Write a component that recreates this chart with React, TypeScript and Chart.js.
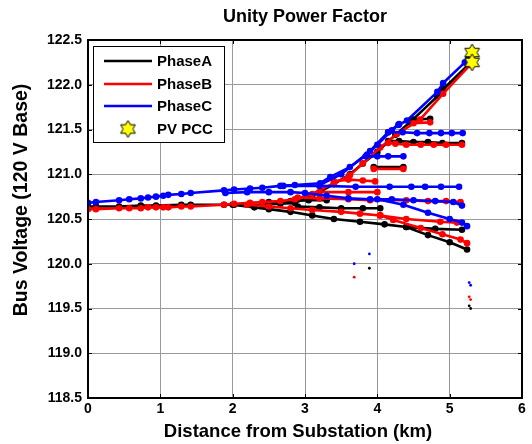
import React, { useEffect, useRef } from 'react';
import { Chart, registerables } from 'chart.js';
Chart.register(...registerables);

type P = [number, number];

const chartTitle = 'Unity Power Factor';
const xTitle = 'Distance from Substation (km)';
const yTitle = 'Bus Voltage (120 V Base)';
const legendLabels = ['PhaseA', 'PhaseB', 'PhaseC', 'PV PCC'];
const xMin = 0, xMax = 6, xStep = 1;
const yMin = 118.5, yMax = 122.5, yStep = 0.5;

// Phase A (black)
const phaseA_main: P[] = [[0,120.64],[0.11,120.64],[0.43,120.64],[0.73,120.65],[0.94,120.65],[1.29,120.66],[1.42,120.66],[1.88,120.66],[2.02,120.66],[2.41,120.66],[2.66,120.67],[2.86,120.68],[3.1,120.76],[3.4,120.89],[3.62,121.0],[3.8,121.12],[4.0,121.25],[4.25,121.44],[4.45,121.58],[4.83,121.87],[4.91,121.95],[5.28,122.24]];
const phaseA_h1: P[] = [[4.15,121.37],[4.3,121.37],[4.5,121.36],[4.7,121.36],[4.9,121.35],[5.17,121.35]];
const phaseA_h2: P[] = [[4.5,121.61],[4.73,121.62]];
const phaseA_h3: P[] = [[3.95,121.08],[4.36,121.08]];
const phaseA_mid: P[] = [[2.5,120.69],[2.8,120.7],[3.05,120.71],[3.3,120.71]];
const phaseA_mid2: P[] = [[2.9,120.64],[3.2,120.63],[3.5,120.62],[3.8,120.62],[4.04,120.62]];
const phaseA_low: P[] = [[2.0,120.66],[2.3,120.63],[2.5,120.61],[2.8,120.58],[3.1,120.54],[3.4,120.5],[3.76,120.47],[4.1,120.44],[4.4,120.41],[4.7,120.32],[5.0,120.24],[5.24,120.16]];
const phaseA_low2: P[] = [[4.4,120.41],[4.8,120.39],[5.17,120.38]];
const phaseA_dots: P[] = [[3.89,119.95],[5.27,119.53],[5.29,119.5]];

// Phase B (red)
const phaseB_main: P[] = [[0,120.61],[0.11,120.61],[0.43,120.62],[0.57,120.62],[0.73,120.62],[0.83,120.63],[0.94,120.63],[1.04,120.63],[1.11,120.63],[1.29,120.64],[1.42,120.64],[1.88,120.66],[2.02,120.67],[2.24,120.68],[2.41,120.69],[2.66,120.7],[2.86,120.72],[3.1,120.78],[3.4,120.9],[3.62,120.99],[3.8,121.12],[4.04,121.3],[4.27,121.45],[4.59,121.61],[4.91,121.9],[5.28,122.22]];
const phaseB_h1: P[] = [[4.15,121.35],[4.25,121.34],[4.4,121.33],[4.6,121.33],[4.78,121.33],[4.95,121.33],[5.17,121.33]];
const phaseB_h2: P[] = [[4.5,121.57],[4.73,121.58]];
const phaseB_h3: P[] = [[3.95,121.06],[4.36,121.06]];
const phaseB_h4: P[] = [[3.4,120.92],[3.6,120.94],[3.8,120.93],[3.97,120.92]];
const phaseB_mid: P[] = [[2.9,120.74],[3.2,120.73],[3.6,120.72],[3.9,120.71],[4.4,120.71],[4.7,120.7],[4.95,120.7],[5.15,120.69]];
const phaseB_mid2: P[] = [[3.2,120.8],[3.6,120.8],[4.0,120.8]];
const phaseB_low: P[] = [[2.2,120.66],[2.5,120.64],[2.8,120.62],[3.1,120.6],[3.5,120.58],[3.76,120.56],[4.04,120.54],[4.22,120.49],[4.6,120.4],[4.9,120.33],[5.15,120.27],[5.24,120.23]];
const phaseB_low2: P[] = [[4.04,120.54],[4.4,120.5],[4.87,120.47],[5.1,120.46]];
const phaseB_dots: P[] = [[3.68,119.85],[5.27,119.63],[5.29,119.6]];

// Phase C (blue)
const phaseC_main: P[] = [[0,120.68],[0.11,120.69],[0.43,120.71],[0.57,120.72],[0.73,120.73],[0.83,120.74],[0.94,120.75],[1.04,120.76],[1.11,120.77],[1.29,120.78],[1.42,120.79],[1.88,120.82],[2.02,120.83],[2.24,120.84],[2.41,120.85],[2.66,120.87],[2.86,120.88],[3.21,120.9],[3.35,120.97],[3.62,121.08],[3.86,121.22],[4.0,121.33],[4.2,121.49],[4.29,121.55],[4.41,121.6],[4.83,121.92],[4.91,122.02],[5.21,122.25],[5.26,122.3]];
const phaseC_up2: P[] = [[3.2,120.88],[3.5,121.0],[3.9,121.26],[4.15,121.47],[4.3,121.56]];
const phaseC_h1: P[] = [[4.15,121.47],[4.35,121.47],[4.55,121.46],[4.72,121.46],[4.88,121.46],[5.03,121.46],[5.18,121.46]];
const phaseC_h2: P[] = [[3.84,121.2],[4.0,121.2],[4.15,121.2],[4.36,121.2]];
const phaseC_h3: P[] = [[2.7,120.87],[3.2,120.87],[3.7,120.86],[4.17,120.86],[4.47,120.86],[4.66,120.86],[4.88,120.86],[5.13,120.86]];
const phaseC_mid: P[] = [[1.9,120.79],[2.2,120.8],[2.5,120.8],[2.8,120.8],[3.0,120.79],[3.3,120.76],[3.6,120.73],[3.9,120.72],[4.2,120.72],[4.5,120.71],[4.8,120.7],[5.05,120.69],[5.17,120.65]];
const phaseC_low: P[] = [[4.0,120.72],[4.36,120.66],[4.7,120.57],[5.0,120.5],[5.17,120.46],[5.24,120.42]];
const phaseC_dots: P[] = [[3.68,120.0],[3.89,120.11],[5.27,119.79],[5.29,119.76]];

// PV point of common coupling
const pvPcc: P[] = [[5.31,122.36],[5.31,122.25]];

const BLACK = '#000000';
const RED = '#ff0000';
const BLUE = '#0000ff';
const STAR_FILL = '#ffff00';

function makeStar(R: number): HTMLCanvasElement {
  const c = document.createElement('canvas');
  const s = Math.ceil(R * 2 + 4);
  c.width = s; c.height = s;
  const ctx = c.getContext('2d')!;
  const cx = s / 2, cy = s / 2;
  const r = R / Math.sqrt(3);
  ctx.beginPath();
  for (let i = 0; i < 12; i++) {
    const ang = -Math.PI / 2 + (i * Math.PI) / 6;
    const rad = i % 2 === 0 ? R : r;
    const x = cx + rad * Math.cos(ang), y = cy + rad * Math.sin(ang);
    if (i === 0) ctx.moveTo(x, y); else ctx.lineTo(x, y);
  }
  ctx.closePath();
  ctx.fillStyle = STAR_FILL;
  ctx.fill();
  ctx.lineWidth = 1;
  ctx.strokeStyle = '#000';
  ctx.stroke();
  return c;
}

const toXY = (pts: P[]) => pts.map(([x, y]) => ({ x, y }));

function lineDs(pts: P[], color: string) {
  return {
    data: toXY(pts),
    showLine: true,
    borderColor: color,
    backgroundColor: color,
    borderWidth: 2.6,
    pointRadius: 3.3,
    pointBorderWidth: 0,
    pointBackgroundColor: color,
    tension: 0,
  };
}
function dotDs(pts: P[], color: string) {
  return {
    data: toXY(pts),
    showLine: false,
    borderColor: color,
    backgroundColor: color,
    pointRadius: 1.4,
    pointBorderWidth: 0,
  };
}

const FONT = 'Arial, "Liberation Sans", sans-serif';

export default function App() {
  const ref = useRef<HTMLCanvasElement | null>(null);
  useEffect(() => {
    const canvas = ref.current!;
    const star = makeStar(8.5);
    const legendStar = makeStar(8.5);

    const datasets: any[] = [
      { data: toXY(pvPcc), showLine: false, pointStyle: star, pointRadius: 9 },
      ...[phaseC_main, phaseC_up2, phaseC_h1, phaseC_h2, phaseC_h3, phaseC_mid, phaseC_low].map((p) => lineDs(p, BLUE)),
      dotDs(phaseC_dots, BLUE),
      ...[phaseB_main, phaseB_h1, phaseB_h2, phaseB_h3, phaseB_h4, phaseB_mid, phaseB_mid2, phaseB_low, phaseB_low2].map((p) => lineDs(p, RED)),
      dotDs(phaseB_dots, RED),
      ...[phaseA_main, phaseA_h1, phaseA_h2, phaseA_h3, phaseA_mid, phaseA_mid2, phaseA_low, phaseA_low2].map((p) => lineDs(p, BLACK)),
      dotDs(phaseA_dots, BLACK),
    ];

    const decor = {
      id: 'matlabDecor',
      afterDraw(chart: any) {
        const ctx = chart.ctx as CanvasRenderingContext2D;
        const { left, right, top, bottom } = chart.chartArea;
        const xs = chart.scales.x, ys = chart.scales.y;
        ctx.save();
        // inner ticks
        ctx.strokeStyle = '#000';
        ctx.lineWidth = 1;
        ctx.beginPath();
        for (let v = xMin; v <= xMax + 1e-9; v += xStep) {
          const px = Math.round(xs.getPixelForValue(v)) + 0.5;
          ctx.moveTo(px, bottom); ctx.lineTo(px, bottom - 4);
          ctx.moveTo(px, top); ctx.lineTo(px, top + 4);
        }
        for (let v = yMin; v <= yMax + 1e-9; v += yStep) {
          const py = Math.round(ys.getPixelForValue(v)) + 0.5;
          ctx.moveTo(left, py); ctx.lineTo(left + 4, py);
          ctx.moveTo(right, py); ctx.lineTo(right - 4, py);
        }
        ctx.stroke();
        // box
        ctx.lineWidth = 2;
        ctx.strokeRect(left, top, right - left, bottom - top);

        // legend
        const lx = 93.5, ly = 46.5, lw = 131, lh = 96;
        ctx.fillStyle = '#fff';
        ctx.fillRect(lx, ly, lw, lh);
        ctx.lineWidth = 1;
        ctx.strokeStyle = '#000';
        ctx.strokeRect(lx, ly, lw, lh);
        const rows = [61, 84, 106, 129];
        const cols = [BLACK, RED, BLUE];
        ctx.font = `bold 15px ${FONT}`;
        ctx.textBaseline = 'middle';
        ctx.textAlign = 'left';
        rows.forEach((ry, i) => {
          if (i < 3) {
            ctx.strokeStyle = cols[i];
            ctx.lineWidth = 2.5;
            ctx.beginPath();
            ctx.moveTo(104, ry); ctx.lineTo(152, ry);
            ctx.stroke();
          } else {
            ctx.drawImage(legendStar, 128 - legendStar.width / 2, ry - legendStar.height / 2);
          }
          ctx.fillStyle = '#000';
          ctx.fillText(legendLabels[i], 157, ry + 1);
        });

        // titles
        ctx.fillStyle = '#000';
        ctx.textAlign = 'center';
        ctx.textBaseline = 'middle';
        ctx.font = `bold 18px ${FONT}`;
        ctx.fillText(chartTitle, (left + right) / 2, 17);
        ctx.font = `bold 18.5px ${FONT}`;
        ctx.fillText(xTitle, 298, 432);
        ctx.save();
        ctx.translate(22, 200);
        ctx.rotate(-Math.PI / 2);
        ctx.font = `bold 19.5px ${FONT}`;
        ctx.fillText(yTitle, 0, 0);
        ctx.restore();
        ctx.restore();
      },
    };

    const chart = new Chart(canvas, {
      type: 'scatter',
      data: { datasets },
      options: {
        animation: false,
        responsive: true,
        maintainAspectRatio: false,
        layout: { padding: { left: 0, right: 10, top: 40, bottom: 0 } },
        plugins: { legend: { display: false }, tooltip: { enabled: false }, title: { display: false } },
        elements: { line: { borderJoinStyle: 'round', borderCapStyle: 'round' } },
        scales: {
          x: {
            type: 'linear', min: xMin, max: xMax,
            afterFit: (s: any) => { s.height = 46; },
            ticks: { stepSize: xStep, color: '#000', font: { family: FONT, size: 14, weight: 'bold' }, padding: 3, maxRotation: 0 },
            grid: { color: '#999999', lineWidth: 1, drawTicks: false },
            border: { display: false },
          },
          y: {
            type: 'linear', min: yMin, max: yMax,
            afterFit: (s: any) => { s.width = 88; },
            ticks: { stepSize: yStep, color: '#000', font: { family: FONT, size: 14, weight: 'bold' }, padding: 6 },
            grid: { color: '#999999', lineWidth: 1, drawTicks: false },
            border: { display: false },
          },
        },
      },
      plugins: [decor],
    } as any);
    return () => chart.destroy();
  }, []);

  return (
    <div style={{ position: 'fixed', left: 0, top: 0, width: 532, height: 444, background: '#fff' }}>
      <canvas ref={ref} />
    </div>
  );
}
